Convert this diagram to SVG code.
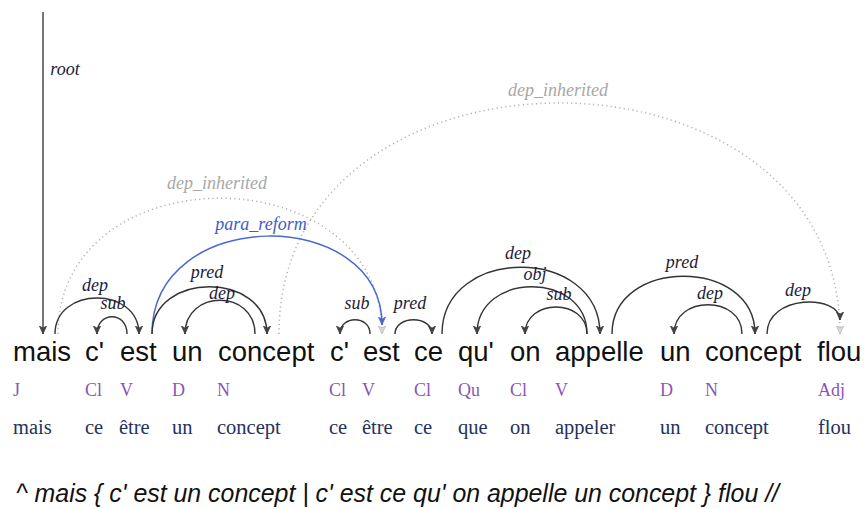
<svg xmlns="http://www.w3.org/2000/svg" width="866" height="509" viewBox="0 0 866 509">
<style>
.w{font-family:"Liberation Sans",Arial,sans-serif;font-size:27.5px;fill:#111}
.p{font-family:"Liberation Serif","Times New Roman",serif;font-size:18px;fill:#8a55b8}
.l{font-family:"Liberation Serif","Times New Roman",serif;font-size:20.5px;fill:#23325e}
.lab{font-family:"Liberation Serif","Times New Roman",serif;font-style:italic;font-size:18px;fill:#1c1c3c;text-anchor:middle}
.arc{fill:none;stroke:#333;stroke-width:1.4}
.blue{fill:none;stroke:#4a68d0;stroke-width:1.5}
.dot{fill:none;stroke:#b0b0b0;stroke-width:1.5;stroke-dasharray:1.2 3.2}
.glab{font-family:"Liberation Serif","Times New Roman",serif;font-style:italic;font-size:18px;fill:#a8a8a8;text-anchor:middle}
.blab{font-family:"Liberation Serif","Times New Roman",serif;font-style:italic;font-size:18px;fill:#3f5cc8;text-anchor:middle}
.sent{font-family:"Liberation Sans",Arial,sans-serif;font-style:italic;font-size:24.9px;fill:#111}
</style>
<defs>
<marker id="ah" viewBox="0 0 10 10" refX="10" refY="5" markerWidth="8" markerHeight="8" markerUnits="userSpaceOnUse" orient="auto"><path d="M0,0.5 L10,5 L0,9.5 L2.5,5 z" fill="#444" stroke="#333" stroke-width="0.8"/></marker>
<marker id="ahb" viewBox="0 0 10 10" refX="10" refY="5" markerWidth="8" markerHeight="8" markerUnits="userSpaceOnUse" orient="auto"><path d="M0,0.5 L10,5 L0,9.5 L2.5,5 z" fill="#4a68d0" stroke="#4a68d0" stroke-width="0.8"/></marker>
<marker id="ahg" viewBox="0 0 10 10" refX="10" refY="5" markerWidth="8" markerHeight="8" markerUnits="userSpaceOnUse" orient="auto"><path d="M0,0.5 L10,5 L0,9.5 L2.5,5 z" fill="#ddd" stroke="#aaa" stroke-width="0.8"/></marker>
</defs>

<g id="tok1"><text class="w" x="13" y="361">mais</text><text class="p" x="13" y="396">J</text><text class="l" x="13" y="434">mais</text></g>
<g id="tok2"><text class="w" x="85" y="361">c'</text><text class="p" x="85" y="396">Cl</text><text class="l" x="85" y="434">ce</text></g>
<g id="tok3"><text class="w" x="120" y="361">est</text><text class="p" x="120" y="396">V</text><text class="l" x="119" y="434">être</text></g>
<g id="tok4"><text class="w" x="172" y="361">un</text><text class="p" x="172" y="396">D</text><text class="l" x="172" y="434">un</text></g>
<g id="tok5"><text class="w" x="218" y="361">concept</text><text class="p" x="217" y="396">N</text><text class="l" x="217" y="434">concept</text></g>
<g id="tok6"><text class="w" x="330" y="361">c'</text><text class="p" x="329" y="396">Cl</text><text class="l" x="329" y="434">ce</text></g>
<g id="tok7"><text class="w" x="363" y="361">est</text><text class="p" x="362" y="396">V</text><text class="l" x="362" y="434">être</text></g>
<g id="tok8"><text class="w" x="414" y="361">ce</text><text class="p" x="414" y="396">Cl</text><text class="l" x="414" y="434">ce</text></g>
<g id="tok9"><text class="w" x="458" y="361">qu'</text><text class="p" x="458" y="396">Qu</text><text class="l" x="458" y="434">que</text></g>
<g id="tok10"><text class="w" x="510" y="361">on</text><text class="p" x="510" y="396">Cl</text><text class="l" x="510" y="434">on</text></g>
<g id="tok11"><text class="w" x="555" y="361">appelle</text><text class="p" x="555" y="396">V</text><text class="l" x="555" y="434">appeler</text></g>
<g id="tok12"><text class="w" x="660" y="361">un</text><text class="p" x="660" y="396">D</text><text class="l" x="660" y="434">un</text></g>
<g id="tok13"><text class="w" x="705" y="361">concept</text><text class="p" x="705" y="396">N</text><text class="l" x="705" y="434">concept</text></g>
<g id="tok14"><text class="w" x="817" y="361">flou</text><text class="p" x="818" y="396">Adj</text><text class="l" x="818" y="434">flou</text></g>

<g id="connectors">
<path d="M43,12 L43,334" fill="none" stroke="#555" stroke-width="1.6" marker-end="url(#ah)"/>
<text class="lab" x="65" y="75">root</text>

<path class="dot" d="M58,334 C58,153 382,153 382,334" marker-end="url(#ahg)"/>
<text class="glab" x="217" y="189">dep_inherited</text>
<path class="dot" d="M279,334 C279,26 840,26 840,334" marker-end="url(#ahg)"/>
<text class="glab" x="558" y="96">dep_inherited</text>

<path class="blue" d="M152,334 C152,205 382,205 382,325" marker-end="url(#ahb)"/>
<text class="blab" x="261" y="230">para_reform</text>

<path class="arc" d="M55,334 C55,286 139,286 139,334" marker-end="url(#ah)"/>
<text class="lab" x="95" y="291">dep</text>
<path class="arc" d="M127,334 C127,311 97,311 97,334" marker-end="url(#ah)"/>
<text class="lab" x="113" y="309">sub</text>
<path class="arc" d="M152,334 C152,271 267,271 267,334" marker-end="url(#ah)"/>
<text class="lab" x="207" y="278">pred</text>
<path class="arc" d="M255,334 C255,289 185,289 185,334" marker-end="url(#ah)"/>
<text class="lab" x="222" y="299">dep</text>
<path class="arc" d="M370,334 C370,315 340,315 340,334" marker-end="url(#ah)"/>
<text class="lab" x="357" y="309">sub</text>
<path class="arc" d="M395,334 C395,315 432,315 432,334" marker-end="url(#ah)"/>
<text class="lab" x="410" y="309">pred</text>
<path class="arc" d="M442,334 C442,245 600,245 600,334" marker-end="url(#ah)"/>
<text class="lab" x="518" y="259">dep</text>
<path class="arc" d="M587,334 C587,271 477,271 477,334" marker-end="url(#ah)"/>
<text class="lab" x="535" y="280">obj</text>
<path class="arc" d="M587,334 C587,298 525,298 525,334" marker-end="url(#ah)"/>
<text class="lab" x="559" y="300">sub</text>
<path class="arc" d="M612,334 C612,257 755,257 755,334" marker-end="url(#ah)"/>
<text class="lab" x="682" y="268">pred</text>
<path class="arc" d="M742,334 C742,295 674,295 674,334" marker-end="url(#ah)"/>
<text class="lab" x="710" y="299">dep</text>
<path class="arc" d="M767,334 C767,294 840,294 840,320" marker-end="url(#ah)"/>
<text class="lab" x="798" y="296">dep</text>
</g>

<text class="sent" x="16" y="502">^ mais { c' est un concept | c' est ce qu' on appelle un concept } flou //</text>
</svg>
